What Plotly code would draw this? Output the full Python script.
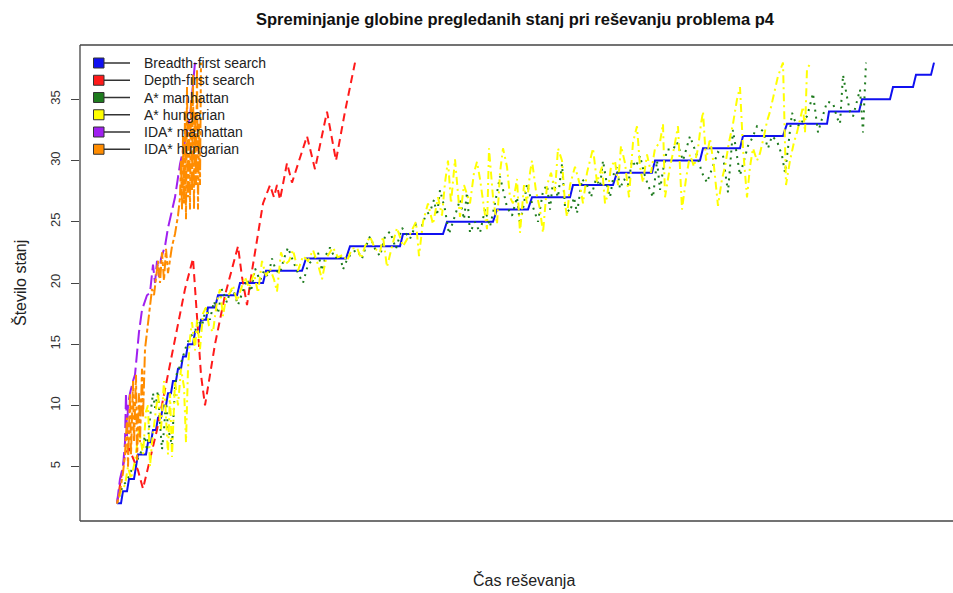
import plotly.graph_objects as go

# ---------------- data (time index, depth) ----------------
bfs_t = [0,4,6,10,12,17,19,21,29,31,34,36,39,41,44,46,49,51,54,56,59,61,64,66,69,71,76,78,82,84,89,91,98,101,120,123,146,149,185,189,229,233,283,286,326,330,376,380,411,415,453,456,496,500,535,538,583,586,623,626,666,670,710,712,742,745,773,776,796,799,814,817]
bfs_y = [2,2,3,3,4,4,5,6,6,7,7,8,8,9,9,10,10,11,11,12,12,13,13,14,14,15,15,16,16,17,17,18,18,19,19,20,20,21,21,22,22,23,23,24,24,25,25,26,26,27,27,28,28,29,29,30,30,31,31,32,32,33,33,34,34,35,35,36,36,37,37,38]

dfs_t = [0,4,8,12,17,21,26,33,40,48,58,68,76,80,84,88,98,108,116,121,125,130,135,140,146,153,157,160,163,170,175,190,198,210,219,228,238]
dfs_y = [2,4,6,6.5,5.5,4.7,3.2,5.5,8,11.3,15.5,19.5,22,17,12.5,10,15,19,21.5,23,20.5,18.2,21,23.5,26.5,28,27,28,26.8,29.8,28.2,32,29.3,34,30,34,38]

am_t = [0,3,6,10,13,17,20,24,28,30,33,36,38,41,43,45,47,49,51,53,55,58,60,63,66,69,73,78,81,85,89,93,97,101,105,110,113,116,121,126,130,134,138,143,147,151,155,159,163,167,171,176,181,186,191,196,201,205,209,213,218,223,226,230,235,240,245,249,253,258,263,268,273,279,285,293,299,305,309,313,317,320,323,328,332,338,343,347,350,353,358,363,368,373,378,383,386,390,395,400,403,407,410,416,421,426,430,433,436,441,445,448,453,457,460,465,470,474,479,483,486,490,493,497,500,503,507,511,515,519,523,527,531,536,540,543,546,550,556,560,566,573,580,585,590,596,601,606,611,616,620,623,627,631,635,640,646,651,655,660,665,668,671,675,679,683,687,690,693,696,701,705,710,716,720,723,726,730,733,736,740,743,746,749]
am_y = [2,2.8,3.5,3.8,4.5,5,5.5,6.2,7.5,6.3,9,11,9.8,11.2,8.5,6.4,8,10.5,8,7.5,6.7,11.5,12.7,13.2,14,14.8,15.6,16,17,16.5,18,17,18.5,17.5,19.5,18.4,19.3,19.5,18.2,19.4,20.3,19.3,21.2,20.2,21,20.5,22,21,20.8,22,22.9,21.8,20.8,20,21.5,21.9,22.5,21,22.3,22.9,22,22.3,21.1,21.9,22.5,22.7,22,23,23.8,22.8,22.2,23.8,24.2,22.8,24.5,23.6,24.8,24.7,25.6,25.8,26.8,25.5,27.6,26,24,25.5,26.8,25.2,27.4,24.1,25,24.1,26,24.6,26.5,28.7,27.6,26.2,25.5,27,24.8,26.5,28.1,26.2,25,27.5,28,26,28.3,27,29.7,26.2,25.8,27,25.7,28.5,28,27,28.5,27.9,30,28,27,29,29.5,27.7,28.5,28,30,29.5,30.4,29,28,27,30,27.6,29.2,30.9,30.9,31.5,30,32,30.4,29,28.2,29.6,30.7,30.4,27.4,32.5,30.5,28.8,30,31.2,31.8,32.8,32.4,31,32,31.6,30.4,29,31,33.9,33,32.8,33.5,33.6,34.5,35.5,32.3,33.5,34.8,34.7,33.5,33,37,35.2,34,33.6,35,35.8,32.3,38]

ah_t = [0,4,8,11,14,18,22,26,29,31,33,35,38,41,44,47,49,51,53,55,58,61,64,67,69,71,73,75,78,80,83,86,89,92,96,100,103,106,109,113,116,120,124,128,132,137,141,145,149,153,157,160,164,168,172,176,181,186,191,196,201,205,209,213,216,221,226,230,235,240,244,248,253,258,263,266,270,275,280,286,293,299,302,306,311,316,321,325,328,331,334,338,341,343,347,353,357,360,363,367,370,372,376,380,383,386,390,393,396,400,403,407,410,413,415,419,423,426,430,434,438,441,445,448,450,453,458,463,466,470,473,476,480,485,488,490,494,498,501,504,508,512,516,520,523,526,530,534,538,543,546,548,553,557,561,565,569,573,577,581,584,586,589,593,597,601,605,608,612,616,620,623,626,628,630,633,636,640,643,647,650,653,657,661,666,669,673,677,680,683,686,688,690,694]
ah_y = [2,3,3.5,5,4,5.5,8,6,9.5,10,5,7,9,11,8,12,9,6,11,5.8,12,10,13,11.5,7,13,15.5,16.8,14.5,17,14.6,17.5,18,16.5,16,18.5,19.5,17.3,18.8,19.2,19.8,18.5,19.5,20.5,19.6,20.8,19.2,21.8,20.6,21.2,20.3,19.3,22.5,21.5,21.8,22.7,21,22.2,21.8,22.7,21.5,20.3,22,22.5,22.9,22.1,22.3,21.8,22.8,22.9,22,23,23.8,22.8,22.5,23.8,21.3,23,24.5,23,24,25,22.2,25,26.5,24.8,27,25.5,28.2,30,26.5,30.1,27,25.4,28,26.5,29,29.9,28.5,26,24.4,31,27,24.8,29,31,29.5,27,26.5,28.5,24.1,28,26.5,29,30,27.5,26,24.1,28,29,27.5,31,30,26.5,25.4,28,29.5,28,26.5,29,30.1,31,28.2,29.5,26.5,27,29.5,30,28,31.2,29.8,27,31.5,32.8,29.5,28.2,30.5,29,31,31.5,33,27,29.5,31,32.8,26,28.5,30.5,29.5,31,33,34,30,31.8,29.5,26.3,28.5,29.5,31.5,33,35,36,31,28.7,27,29.5,31,30,30.6,32,33.2,34,35.5,36.9,38,28,30,31.5,32.3,33.5,34.4,32.3,37.5,38]

im_t = [0,3,6,8,9,10,11,13,16,18,22,25,30,33,36,38,40,42,44,48,51,55,58,63,68,70,73,76,78]
im_y = [2,4,5,7,11,7.5,10,11,12,12.5,16,17.8,19,19.2,21.5,20,21.8,20.5,22,23,24.5,26,27,29.7,31.5,32.3,33.6,36,38]

ih_t = [0,3,6,8,10,11,13,14,16,17,19,20,22,23,25,26,28,31,33,35,37,39,41,43,45,47,49,51,53,55,58,61,63,64,65,66,67,68,69,70,71,72,73,74,75,76,77,78,79,80,81,82,83,84]
ih_y = [2,3,4.5,6,9,5,11,6,12,7,12.5,5.5,11,7,13,9,14.6,16.5,17.8,19.5,19,20.5,21.8,20,22.5,20.2,22.8,20.8,22,23,24,25.5,27,30,26,32,26.5,34,25.2,36,27,33,26,35,27.5,37,26,34,28,37.5,26,33,28,38]

series_names = ["Breadth-first search", "Depth-first search", "A* manhattan",
                "A* hungarian", "IDA* manhattan", "IDA* hungarian"]
series_colors = ["#1010F0", "#FF1A1A", "#1E7B1E", "#FFFF00", "#A020F0", "#FF8C00"]
series_dash = ["solid", "8px,5px", "2px,5px", "2px,4px,8px,4px", "14px,5px", "4px,3px,11px,3px"]
series_t = [bfs_t, dfs_t, am_t, ah_t, im_t, ih_t]
series_y = [bfs_y, dfs_y, am_y, ah_y, im_y, ih_y]

y_ticks = [5, 10, 15, 20, 25, 30, 35]

# ---------------- layout geometry ----------------
W, H = 953, 593
L, R, T, B = 80, 0, 45, 72
PW, PH = W - L - R, H - T - B

def px(xp):
    return (xp - L) / PW

def py(yp):
    return (H - B - yp) / PH

FONT = "Liberation Sans, Arial, Helvetica, sans-serif"

fig = go.Figure()
for name, col, dash, t, y in zip(series_names, series_colors, series_dash, series_t, series_y):
    fig.add_trace(go.Scatter(x=t, y=y, mode="lines", name=name, showlegend=False,
                             line=dict(color=col, width=2, dash=dash)))

shapes = [
    dict(type="line", xref="paper", yref="paper", x0=0, x1=0, y0=0, y1=1, line=dict(color="#444", width=1.3)),
    dict(type="line", xref="paper", yref="paper", x0=0, x1=1.2, y0=1, y1=1, line=dict(color="#444", width=1.3)),
    dict(type="line", xref="paper", yref="paper", x0=0, x1=1.2, y0=0, y1=0, line=dict(color="#444", width=1.3)),
]
annotations = []
row0, drow = 63, 17.25
for i, (name, col) in enumerate(zip(series_names, series_colors)):
    yc = row0 + i * drow
    shapes.append(dict(type="line", xref="paper", yref="paper", x0=px(104), x1=px(130), y0=py(yc), y1=py(yc),
                       line=dict(color="#333", width=1.5)))
    shapes.append(dict(type="rect", xref="paper", yref="paper", x0=px(93.5), x1=px(104), y0=py(yc - 5), y1=py(yc + 5),
                       fillcolor=col, line=dict(color="#333", width=1)))
    annotations.append(dict(text=name, xref="paper", yref="paper", x=px(142), y=py(yc), xanchor="left",
                            yanchor="middle", showarrow=False, font=dict(family=FONT, size=14, color="#222")))

annotations.append(dict(text="Spreminjanje globine pregledanih stanj pri reševanju problema p4",
                        xref="paper", yref="paper", x=px(515), y=py(19), xanchor="center", yanchor="middle",
                        showarrow=False, font=dict(family=FONT, size=16.5, color="#111"), ))
annotations.append(dict(text="Čas reševanja", xref="paper", yref="paper", x=px(524), y=py(580),
                        xanchor="center", yanchor="middle", showarrow=False,
                        font=dict(family=FONT, size=16, color="#222")))
annotations.append(dict(text="Število stanj", xref="paper", yref="paper", x=px(20), y=py(283),
                        xanchor="center", yanchor="middle", textangle=-90, showarrow=False,
                        font=dict(family=FONT, size=16, color="#222")))
annotations[-3]["text"] = "<b>" + annotations[-3]["text"] + "</b>"

fig.update_layout(
    width=W, height=H, autosize=False,
    margin=dict(l=L, r=R, t=T, b=B, pad=0),
    paper_bgcolor="white", plot_bgcolor="white",
    font=dict(family=FONT, color="#222"),
    shapes=shapes, annotations=annotations, showlegend=False,
    xaxis=dict(range=[-37, 836], showgrid=False, zeroline=False, showticklabels=False, ticks="",
               showline=False, fixedrange=True),
    yaxis=dict(range=[0.56, 39.44], showgrid=False, zeroline=False, tickvals=y_ticks,
               ticks="outside", ticklen=8, tickwidth=1.2, tickcolor="#444", tickangle=-90,
               tickfont=dict(family=FONT, size=13, color="#333"), showline=False,
               ticklabelstandoff=6, fixedrange=True),
)

fig.write_html("out.html", config={"displayModeBar": False})
